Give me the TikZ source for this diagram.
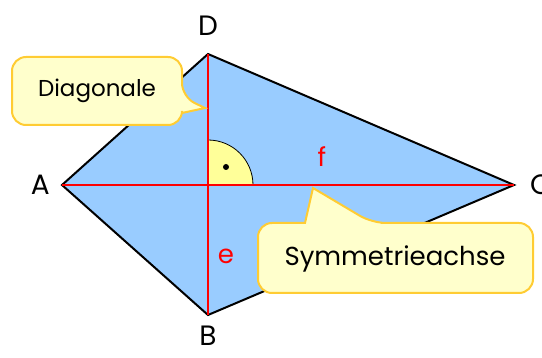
\documentclass[tikz,border=0pt]{standalone}
\usepackage{fontspec}
\setmainfont{Poppins}
\usetikzlibrary{positioning}
\definecolor{kiteblue}{RGB}{153,204,255}
\definecolor{bubblefill}{RGB}{255,255,204}
\definecolor{bubbleline}{RGB}{255,204,51}
\definecolor{anglefill}{RGB}{255,255,153}

\begin{document}
\begin{tikzpicture}[x=1pt, y=-1pt, font=\fontsize{23}{27}\selectfont, kite/.style={fill=kiteblue, draw=black, line width=2pt, line join=miter}, diag/.style={draw=red, line width=2.4pt}, bubble/.style={draw=bubbleline, fill=bubblefill, line width=2pt, rounded corners=14pt}, vlabel/.style={inner sep=2pt, font=\fontsize{28}{32}\selectfont}, dlabel/.style={text=red, font=\fontsize{26}{30}\selectfont}]
\useasboundingbox (0,0) rectangle (542,358);
% corners of the kite
\coordinate (A) at (62,185);
\coordinate (B) at (208,315);
\coordinate (C) at (514,185);
\coordinate (D) at (208,54);
\coordinate (M) at (208,185);
\filldraw[kite] (A) -- (D) -- (C) -- (B) -- cycle;
% right angle
\filldraw[fill=anglefill, draw=black, line width=0.8pt] (M) -- ++(45,0) arc[start angle=0, end angle=-90, radius=45] -- cycle;
\fill ([shift={(18,-18)}]M) circle[radius=3];
\draw[diag] (A) -- (C);
\draw[diag] (D) -- (B);
\node[vlabel, above=16pt of D] (labD) {D};
\node[vlabel, left=10pt of A] (labA) {A};
\node[vlabel, below=9pt of B] (labB) {B};
\node[vlabel, right=14pt of C] (labC) {C};
\node[dlabel] (f) at (322,157) {f};
\node[dlabel] (e) at (226,256) {e};
% callouts
\coordinate (diagtip) at (205,108);
\coordinate (symtip) at (313,188);
\path[bubble] (97,57) -- (182,57) -- (182,97) [sharp corners] -- (diagtip) -- (182,113) [rounded corners=14pt] -- (182,125) -- (12,125) -- (12,57) -- cycle;
\node (diagtext) at (97,91) {Diagonale};
\path[bubble] (395,223) -- (372,223) [sharp corners] -- (symtip) -- (305,223) [rounded corners=14pt] -- (258,223) -- (258,293) -- (533,293) -- (533,223) -- cycle;
\node[font=\fontsize{26}{30}\selectfont] (symtext) at (395,259) {Symmetrieachse};
\end{tikzpicture}
\end{document}
